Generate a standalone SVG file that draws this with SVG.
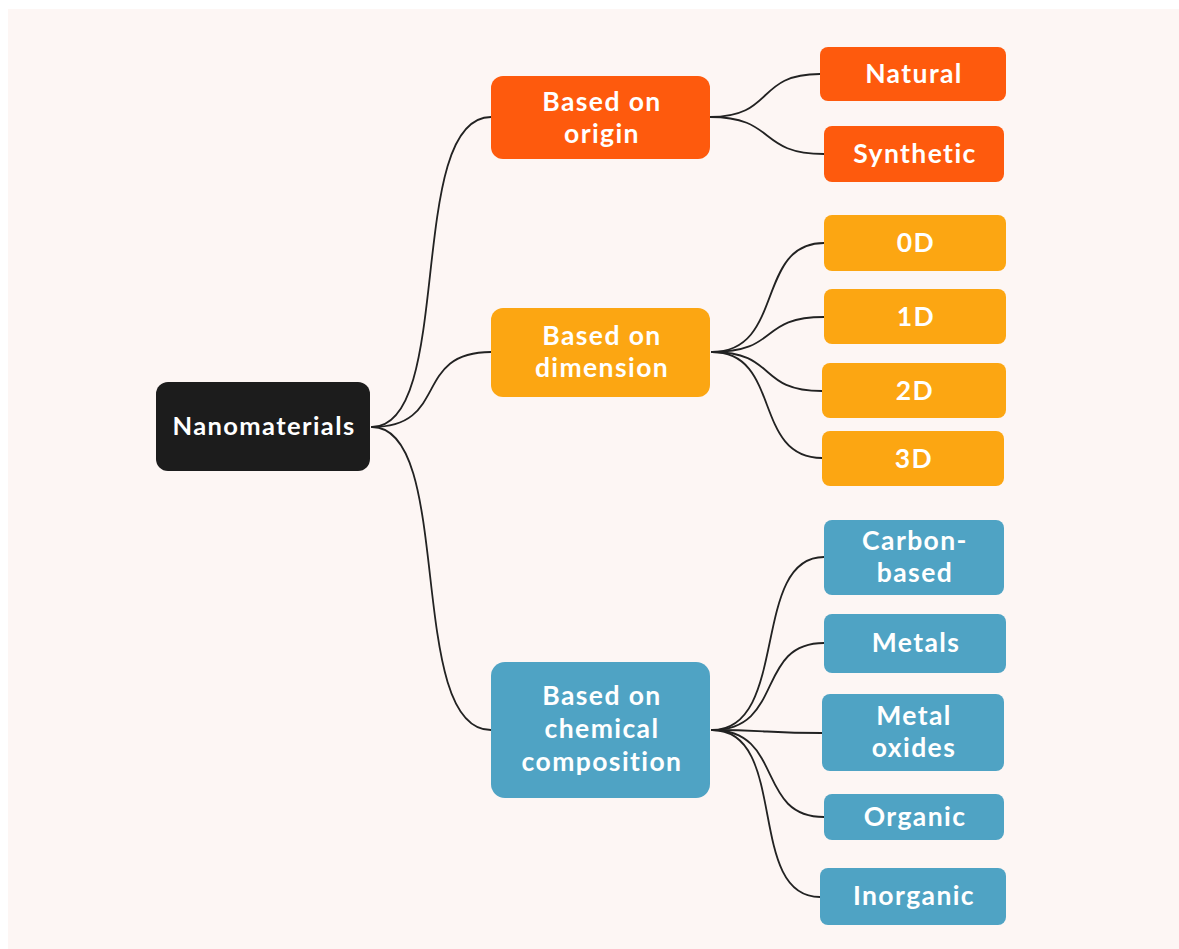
<svg xmlns="http://www.w3.org/2000/svg" width="1179" height="949" viewBox="0 0 1179 949">
<style>
.t{font-family:Lato,"Noto Sans","Liberation Sans",sans-serif;font-weight:bold;fill:#ffffff;text-anchor:middle;letter-spacing:1.4px}
.m{font-size:26.5px}
.c{fill:none;stroke:#222222;stroke-width:1.8;stroke-linecap:round}
.root{fill:#1c1c1c}
.or{fill:#fe5a0d}
.yl{fill:#fca612}
.bl{fill:#4fa3c4}
</style>
<rect x="0" y="0" width="1179" height="949" fill="#ffffff"/>
<rect x="8" y="9" width="1171" height="940" fill="#fdf6f4"/>
<g id="connectors">
<path class="c" d="M372,427 C455,427 405,117 491,117"/>
<path class="c" d="M372,427 C450,427 412,352 491,352"/>
<path class="c" d="M372,427 C455,427 405,730 491,730"/>
<path class="c" d="M710,117 C775,117 755,74 820,74"/>
<path class="c" d="M710,117 C777,117 757,154 824,154"/>
<path class="c" d="M712,352 C785,352 755,243 824,243"/>
<path class="c" d="M712,352 C780,352 758,317 824,317"/>
<path class="c" d="M712,352 C778,352 756,391 822,391"/>
<path class="c" d="M712,352 C782,352 752,458 822,458"/>
<path class="c" d="M712,730 C790,730 750,557 824,557"/>
<path class="c" d="M712,730 C785,730 755,643 824,643"/>
<path class="c" d="M712,730 C767,730 767,733 822,733"/>
<path class="c" d="M712,730 C785,730 755,817 824,817"/>
<path class="c" d="M712,730 C790,730 745,897 820,897"/>
</g>
<g id="nanomaterials">
<rect class="root" x="156" y="382" width="214" height="89" rx="12"/>
<text class="t" x="264" y="435" font-size="25.5" letter-spacing="1.2">Nanomaterials</text>
</g>
<g id="origin">
<rect class="or" x="491" y="76" width="219" height="83" rx="12"/>
<text class="t m" x="602" y="111">Based on</text>
<text class="t m" x="602" y="143">origin</text>
</g>
<g id="natural">
<rect class="or" x="820" y="47" width="186" height="54" rx="8"/>
<text class="t m" x="914" y="83">Natural</text>
</g>
<g id="synthetic">
<rect class="or" x="824" y="126" width="180" height="56" rx="8"/>
<text class="t m" x="915" y="163">Synthetic</text>
</g>
<g id="dimension">
<rect class="yl" x="491" y="308" width="219" height="89" rx="12"/>
<text class="t m" x="602" y="345">Based on</text>
<text class="t m" x="602" y="377">dimension</text>
</g>
<g id="d0">
<rect class="yl" x="824" y="215" width="182" height="56" rx="8"/>
<text class="t m" x="916" y="252">0D</text>
</g>
<g id="d1">
<rect class="yl" x="824" y="289" width="182" height="55" rx="8"/>
<text class="t m" x="916" y="326">1D</text>
</g>
<g id="d2">
<rect class="yl" x="822" y="363" width="184" height="55" rx="8"/>
<text class="t m" x="915" y="400">2D</text>
</g>
<g id="d3">
<rect class="yl" x="822" y="431" width="182" height="55" rx="8"/>
<text class="t m" x="914" y="468">3D</text>
</g>
<g id="chemical">
<rect class="bl" x="491" y="662" width="219" height="136" rx="14"/>
<text class="t m" x="602" y="705">Based on</text>
<text class="t m" x="602" y="738">chemical</text>
<text class="t m" x="602" y="771">composition</text>
</g>
<g id="carbon">
<rect class="bl" x="824" y="520" width="180" height="75" rx="8"/>
<text class="t m" x="915" y="550">Carbon-</text>
<text class="t m" x="915" y="582">based</text>
</g>
<g id="metals">
<rect class="bl" x="824" y="614" width="182" height="59" rx="8"/>
<text class="t m" x="916" y="652">Metals</text>
</g>
<g id="metaloxides">
<rect class="bl" x="822" y="694" width="182" height="77" rx="8"/>
<text class="t m" x="914" y="725">Metal</text>
<text class="t m" x="914" y="757">oxides</text>
</g>
<g id="organic">
<rect class="bl" x="824" y="794" width="180" height="46" rx="8"/>
<text class="t m" x="915" y="826">Organic</text>
</g>
<g id="inorganic">
<rect class="bl" x="820" y="868" width="186" height="57" rx="8"/>
<text class="t m" x="914" y="905">Inorganic</text>
</g>
</svg>
